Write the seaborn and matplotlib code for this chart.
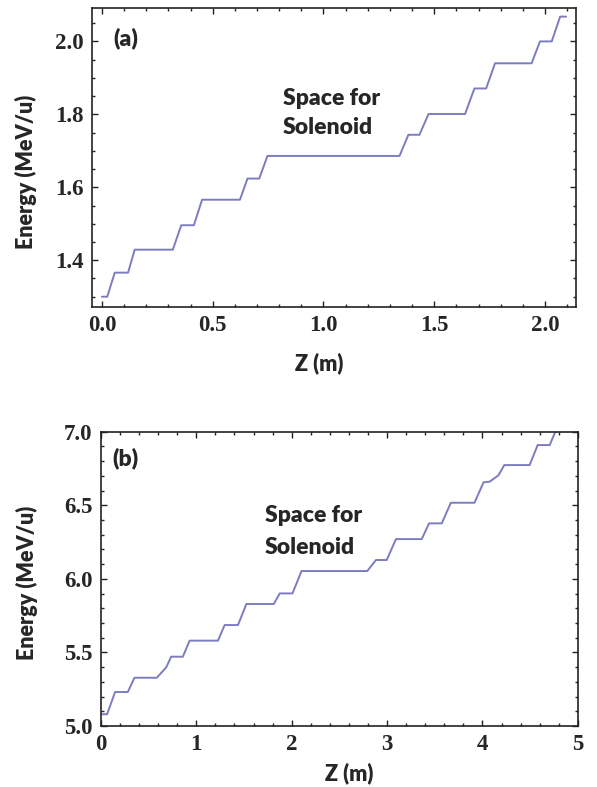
import pandas as pd
import seaborn as sns
import matplotlib.pyplot as plt
from matplotlib.ticker import MultipleLocator

sns.set_style('ticks')
plt.rcParams['font.family'] = ['Liberation Serif', 'DejaVu Serif']

# PANEL (a): corner points of the stepped energy curve
z_a = [0.0, 0.024, 0.058, 0.118, 0.148, 0.320, 0.358, 0.415, 0.452, 0.623,
       0.657, 0.710, 0.747, 1.343, 1.383, 1.433, 1.474, 1.639, 1.681, 1.734,
       1.774, 1.939, 1.977, 2.030, 2.068, 2.095]
e_a = [1.300, 1.300, 1.366, 1.366, 1.429, 1.429, 1.496, 1.496, 1.566, 1.566,
       1.624, 1.624, 1.686, 1.686, 1.744, 1.744, 1.801, 1.801, 1.871, 1.871,
       1.940, 1.940, 2.000, 2.000, 2.068, 2.068]

# PANEL (b)
z_b = [0.0, 0.065, 0.149, 0.282, 0.352, 0.586, 0.685, 0.737, 0.859, 0.930,
       1.227, 1.297, 1.437, 1.525, 1.812, 1.875, 2.008, 2.103, 2.792, 2.883,
       2.996, 3.093, 3.363, 3.440, 3.573, 3.668, 3.916, 4.011, 4.074, 4.168,
       4.228, 4.494, 4.578, 4.704, 4.790]
e_b = [5.080, 5.080, 5.231, 5.231, 5.328, 5.328, 5.399, 5.471, 5.471, 5.580,
       5.580, 5.686, 5.686, 5.829, 5.829, 5.901, 5.901, 6.053, 6.053, 6.128,
       6.128, 6.270, 6.270, 6.377, 6.377, 6.517, 6.517, 6.656, 6.660, 6.704,
       6.773, 6.773, 6.909, 6.909, 7.040]

line_color = '#7c7cc0'
label_font = dict(family='Lato', weight='heavy', size=15.5)
note_font = dict(family='Lato', weight='heavy', size=16.5)


def style_axes(ax, xmajor, xminor, ymajor, yminor):
    ax.xaxis.set_major_locator(MultipleLocator(xmajor))
    ax.xaxis.set_minor_locator(MultipleLocator(xminor))
    ax.yaxis.set_major_locator(MultipleLocator(ymajor))
    ax.yaxis.set_minor_locator(MultipleLocator(yminor))
    ax.tick_params(which='both', direction='in', top=True, right=True,
                   labelsize=16.5, width=1.0, color='#222222')
    ax.tick_params(which='major', length=4.5, pad=6)
    ax.tick_params(which='minor', length=2.2)
    for s in ax.spines.values():
        s.set_linewidth(1.2)
        s.set_color('#222222')


fig = plt.figure(figsize=(5.97, 7.87), dpi=100)
ax1 = fig.add_axes([0.154, 0.610, 0.811, 0.380])
ax2 = fig.add_axes([0.169, 0.0775, 0.799, 0.374])

df_a = pd.DataFrame({'z': z_a, 'energy': e_a})
df_b = pd.DataFrame({'z': z_b, 'energy': e_b})

sns.lineplot(data=df_a, x='z', y='energy', ax=ax1, color=line_color,
             linewidth=1.4, estimator=None, sort=False)
ax1.set_xlim(-0.045, 2.14)
ax1.set_ylim(1.272, 2.092)
style_axes(ax1, 0.5, 0.1, 0.2, 0.05)
ax1.set_yticks([1.4, 1.6, 1.8, 2.0])
ax1.xaxis.set_major_formatter(plt.FormatStrFormatter('%.1f'))
ax1.yaxis.set_major_formatter(plt.FormatStrFormatter('%.1f'))
ax1.set_xlabel('Z (m)', fontdict=label_font)
ax1.set_ylabel('Energy (MeV/u)', fontdict=label_font)
ax1.xaxis.set_label_coords(0.47, -0.151)
ax1.yaxis.set_label_coords(-0.114, 0.45)
ax1.text(0.05, 2.038, '(a)', fontdict=note_font, va='top')
ax1.text(0.817, 1.827, 'Space for', fontdict=note_font, va='baseline')
ax1.text(0.817, 1.745, 'Solenoid', fontdict=note_font, va='baseline')

sns.lineplot(data=df_b, x='z', y='energy', ax=ax2, color=line_color,
             linewidth=1.4, estimator=None, sort=False)
ax2.set_xlim(0, 5)
ax2.set_ylim(5.0, 7.0)
style_axes(ax2, 1, 0.2, 0.5, 0.1)
ax2.yaxis.set_major_formatter(plt.FormatStrFormatter('%.1f'))
ax2.set_xlabel('Z (m)', fontdict=label_font)
ax2.set_ylabel('Energy (MeV/u)', fontdict=label_font)
ax2.xaxis.set_label_coords(0.52, -0.122)
ax2.yaxis.set_label_coords(-0.131, 0.486)
ax2.text(0.12, 6.895, '(b)', fontdict=note_font, va='top')
ax2.text(1.717, 6.386, 'Space for', fontdict=note_font, va='baseline')
ax2.text(1.717, 6.168, 'Solenoid', fontdict=note_font, va='baseline')

for lab in ax1.get_xticklabels() + ax1.get_yticklabels() + ax2.get_xticklabels() + ax2.get_yticklabels():
    lab.set_fontweight('bold')

fig.savefig('out.png', dpi=100)
